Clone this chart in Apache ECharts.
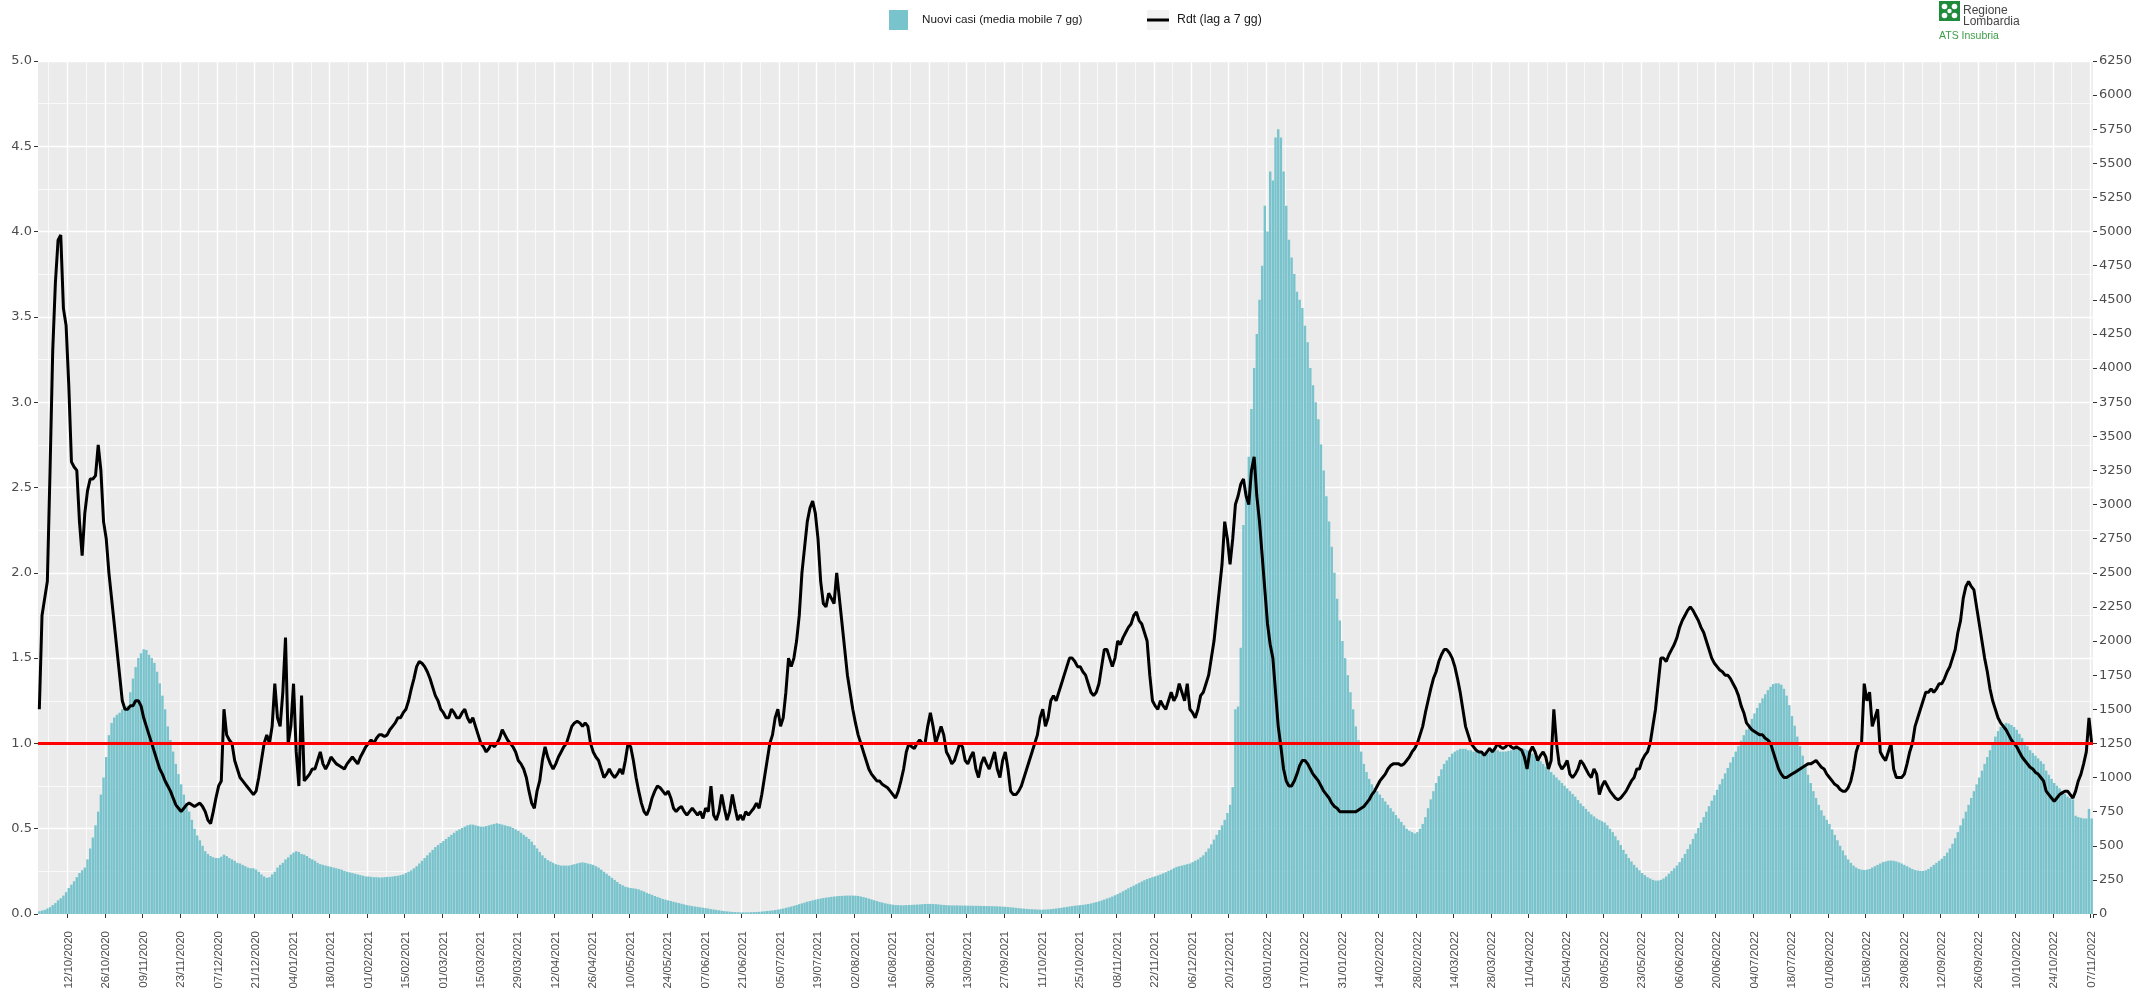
<!DOCTYPE html>
<html><head><meta charset="utf-8">
<script src="https://cdn.jsdelivr.net/npm/echarts@6/dist/echarts.min.js"></script>
<style>html,body{margin:0;padding:0;background:#fff}#c{width:2142px;height:990px}</style>
</head><body><div id="c"></div>
<script>
// ---------- DATA ----------
const firstDay = [2020, 10, 1]; // 01/10/2020, one value per day
const xTickLabels = ['12/10/2020','26/10/2020','09/11/2020','23/11/2020','07/12/2020','21/12/2020',
 '04/01/2021','18/01/2021','01/02/2021','15/02/2021','01/03/2021','15/03/2021','29/03/2021','12/04/2021','26/04/2021','10/05/2021','24/05/2021','07/06/2021','21/06/2021','05/07/2021','19/07/2021','02/08/2021','16/08/2021','30/08/2021','13/09/2021','27/09/2021','11/10/2021','25/10/2021','08/11/2021','22/11/2021','06/12/2021','20/12/2021',
 '03/01/2022','17/01/2022','31/01/2022','14/02/2022','28/02/2022','14/03/2022','28/03/2022','11/04/2022','25/04/2022','09/05/2022','23/05/2022','06/06/2022','20/06/2022','04/07/2022','18/07/2022','01/08/2022','15/08/2022','29/08/2022','12/09/2022','26/09/2022','10/10/2022','24/10/2022','07/11/2022'];
const leftTicks = [0,0.5,1,1.5,2,2.5,3,3.5,4,4.5,5];
const rightTicks = [0,250,500,750,1000,1250,1500,1750,2000,2250,2500,2750,3000,3250,3500,3750,4000,4250,4500,4750,5000,5250,5500,5750,6000,6250];
const soglia = 1.0;

// Rdt (lag a 7 gg), by month
const rdt_2020_10 = [1.2,1.75,1.85,1.95,2.6,3.3,3.7,3.95,3.98,3.55,3.45,3.1,2.65,2.62,2.6,2.3,2.1,2.35,2.48,2.55,2.55,2.57,2.75,2.6,2.3,2.2,2.0,1.85,1.7,1.55,1.4];
const rdt_2020_11 = [1.25,1.2,1.2,1.22,1.22,1.25,1.25,1.22,1.15,1.1,1.05,1.0,0.95,0.9,0.85,0.82,0.78,0.75,0.72,0.68,0.64,0.62,0.6,0.62,0.64,0.65,0.64,0.63,0.64,0.65];
const rdt_2020_12 = [0.63,0.6,0.55,0.53,0.6,0.68,0.75,0.78,1.2,1.05,1.02,1.0,0.9,0.85,0.8,0.78,0.76,0.74,0.72,0.7,0.72,0.8,0.9,1.0,1.05,1.0,1.1,1.35,1.15,1.1,1.3];
const rdt_2021_01 = [1.62,1.0,1.1,1.35,0.95,0.75,1.28,0.78,0.8,0.82,0.85,0.85,0.9,0.95,0.88,0.85,0.88,0.92,0.9,0.88,0.87,0.86,0.85,0.88,0.9,0.92,0.9,0.88,0.92,0.95,0.98];
const rdt_2021_02 = [1.0,1.02,1.0,1.03,1.05,1.05,1.04,1.05,1.08,1.1,1.12,1.15,1.15,1.18,1.2,1.25,1.32,1.38,1.45,1.48,1.47,1.45,1.42,1.38,1.33,1.28,1.25,1.2];
const rdt_2021_03 = [1.18,1.15,1.15,1.2,1.18,1.15,1.15,1.18,1.2,1.15,1.12,1.15,1.1,1.05,1.0,0.98,0.95,0.97,1.0,0.98,1.0,1.03,1.08,1.05,1.02,1.0,0.98,0.95,0.9,0.88,0.85];
const rdt_2021_04 = [0.8,0.72,0.65,0.62,0.72,0.78,0.9,0.98,0.92,0.88,0.85,0.88,0.92,0.95,0.98,1.0,1.05,1.1,1.12,1.13,1.12,1.1,1.12,1.1,1.0,0.95,0.92,0.9,0.85,0.8];
const rdt_2021_05 = [0.82,0.85,0.82,0.8,0.82,0.85,0.82,0.9,1.0,0.98,0.9,0.8,0.72,0.65,0.6,0.58,0.62,0.68,0.72,0.75,0.74,0.72,0.7,0.72,0.68,0.62,0.6,0.62,0.63,0.6,0.58];
const rdt_2021_06 = [0.6,0.62,0.6,0.58,0.6,0.56,0.62,0.6,0.75,0.58,0.55,0.6,0.7,0.62,0.55,0.6,0.7,0.62,0.55,0.58,0.55,0.6,0.58,0.6,0.62,0.65,0.62,0.7,0.8,0.9];
const rdt_2021_07 = [1.0,1.05,1.15,1.2,1.1,1.15,1.3,1.5,1.45,1.5,1.6,1.75,2.0,2.15,2.3,2.38,2.42,2.35,2.2,1.95,1.82,1.8,1.88,1.85,1.82,2.0,1.85,1.7,1.55,1.4,1.3];
const rdt_2021_08 = [1.2,1.12,1.05,1.0,0.95,0.9,0.85,0.82,0.8,0.78,0.78,0.76,0.75,0.74,0.72,0.7,0.68,0.72,0.78,0.85,0.95,1.0,0.98,0.97,1.0,1.02,1.0,1.0,1.1,1.18,1.1];
const rdt_2021_09 = [1.0,1.05,1.1,1.05,0.95,0.92,0.88,0.9,0.95,1.0,0.98,0.9,0.88,0.92,0.95,0.85,0.8,0.88,0.92,0.88,0.85,0.9,0.95,0.85,0.8,0.9,0.95,0.85,0.72,0.7];
const rdt_2021_10 = [0.7,0.72,0.75,0.8,0.85,0.9,0.95,1.0,1.05,1.15,1.2,1.1,1.15,1.25,1.28,1.25,1.3,1.35,1.4,1.45,1.5,1.5,1.48,1.45,1.45,1.42,1.4,1.35,1.3,1.28,1.3];
const rdt_2021_11 = [1.35,1.45,1.55,1.55,1.5,1.45,1.5,1.6,1.58,1.62,1.65,1.68,1.7,1.75,1.77,1.72,1.7,1.65,1.6,1.4,1.25,1.22,1.2,1.25,1.22,1.2,1.25,1.3,1.25,1.28];
const rdt_2021_12 = [1.35,1.3,1.25,1.35,1.2,1.18,1.15,1.2,1.28,1.3,1.35,1.4,1.5,1.6,1.75,1.9,2.05,2.3,2.2,2.05,2.2,2.4,2.45,2.52,2.55,2.45,2.4,2.6,2.68,2.45,2.3];
const rdt_2022_01 = [2.1,1.9,1.7,1.58,1.5,1.3,1.1,0.98,0.85,0.78,0.75,0.75,0.78,0.82,0.87,0.9,0.9,0.88,0.85,0.82,0.8,0.78,0.75,0.72,0.7,0.68,0.65,0.63,0.62,0.6,0.6];
const rdt_2022_02 = [0.6,0.6,0.6,0.6,0.6,0.61,0.62,0.63,0.65,0.67,0.7,0.72,0.75,0.78,0.8,0.82,0.85,0.87,0.88,0.88,0.88,0.87,0.88,0.9,0.92,0.95,0.97,1.0];
const rdt_2022_03 = [1.05,1.1,1.18,1.25,1.32,1.38,1.42,1.48,1.52,1.55,1.55,1.53,1.5,1.45,1.38,1.3,1.2,1.1,1.05,1.0,0.98,0.96,0.95,0.95,0.93,0.95,0.97,0.95,0.97,1.0,0.98];
const rdt_2022_04 = [0.97,0.98,1.0,0.98,0.97,0.98,0.97,0.96,0.92,0.85,0.95,0.98,0.95,0.9,0.93,0.95,0.92,0.85,0.9,1.2,1.0,0.88,0.85,0.87,0.9,0.82,0.8,0.82,0.85,0.9];
const rdt_2022_05 = [0.88,0.85,0.82,0.8,0.85,0.82,0.7,0.75,0.78,0.75,0.72,0.7,0.68,0.67,0.68,0.7,0.72,0.75,0.78,0.8,0.85,0.85,0.9,0.93,0.95,1.0,1.1,1.2,1.35,1.5,1.5];
const rdt_2022_06 = [1.48,1.52,1.55,1.58,1.62,1.68,1.72,1.75,1.78,1.8,1.78,1.75,1.72,1.68,1.65,1.6,1.55,1.5,1.47,1.45,1.43,1.42,1.4,1.4,1.38,1.35,1.32,1.28,1.22,1.18];
const rdt_2022_07 = [1.12,1.1,1.08,1.07,1.06,1.05,1.05,1.03,1.02,1.0,0.95,0.9,0.85,0.82,0.8,0.8,0.81,0.82,0.83,0.84,0.85,0.86,0.87,0.88,0.88,0.89,0.9,0.88,0.86,0.85,0.82];
const rdt_2022_08 = [0.8,0.78,0.76,0.75,0.73,0.72,0.72,0.74,0.78,0.85,0.95,1.0,1.0,1.35,1.25,1.3,1.1,1.15,1.2,0.95,0.92,0.9,0.95,1.0,0.85,0.8,0.8,0.8,0.82,0.88,0.95];
const rdt_2022_09 = [1.0,1.1,1.15,1.2,1.25,1.3,1.3,1.32,1.3,1.32,1.35,1.35,1.38,1.42,1.45,1.5,1.55,1.65,1.72,1.85,1.92,1.95,1.92,1.9,1.8,1.7,1.6,1.5,1.42,1.32];
const rdt_2022_10 = [1.25,1.2,1.15,1.12,1.1,1.08,1.05,1.02,1.0,0.98,0.95,0.92,0.9,0.88,0.86,0.85,0.83,0.82,0.8,0.78,0.72,0.7,0.68,0.66,0.68,0.7,0.71,0.72,0.72,0.7,0.68];
const rdt_2022_11 = [0.72,0.78,0.82,0.88,0.95,1.15,1.0];

// Nuovi casi (media mobile 7 gg), by month
const casi_2020_10 = [20,25,30,40,50,65,80,100,115,135,160,190,215,240,270,300,320,340,400,480,560,650,750,875,1000,1150,1310,1400,1440,1460,1475];
const casi_2020_11 = [1500,1500,1525,1625,1725,1810,1875,1910,1940,1935,1900,1875,1840,1775,1690,1600,1500,1375,1275,1190,1100,1025,950,875,810,750,690,625,575,540];
const casi_2020_12 = [500,460,440,425,415,410,410,420,435,425,410,400,390,375,370,360,350,340,335,335,325,310,290,275,265,270,290,310,340,360,375];
const casi_2021_01 = [400,415,435,450,460,455,440,435,425,410,400,390,375,365,360,355,350,345,340,335,330,325,315,310,305,300,295,290,285,280,275];
const casi_2021_02 = [275,272,270,270,268,268,270,272,272,275,278,280,285,290,300,310,320,335,350,370,390,410,430,450,470,490,505,520];
const casi_2021_03 = [535,550,565,580,595,610,620,630,640,650,655,655,650,645,640,640,645,650,655,660,665,660,655,650,645,640,630,620,610,595,580];
const casi_2021_04 = [565,550,530,505,480,455,430,410,395,385,375,365,360,355,355,355,355,360,365,370,375,378,375,370,365,360,350,340,325,310];
const casi_2021_05 = [295,280,265,250,235,220,210,200,195,190,188,185,180,172,165,155,148,140,132,125,118,110,105,100,95,90,85,80,75,70,65];
const casi_2021_06 = [62,58,55,52,49,46,43,40,36,33,30,27,24,21,19,17,15,14,13,12,12,12,12,13,14,15,16,18,20,22];
const casi_2021_07 = [24,26,29,32,36,40,45,50,55,60,66,72,78,84,90,95,100,105,109,113,117,120,123,126,128,130,132,133,134,135,135];
const casi_2021_08 = [135,134,132,128,124,119,113,107,101,95,89,84,79,75,71,68,66,65,64,64,65,66,67,68,69,70,72,73,74,74,73];
const casi_2021_09 = [72,70,68,66,65,64,63,63,63,62,62,62,61,61,60,60,60,59,59,58,58,57,57,56,55,54,53,51,49,47];
const casi_2021_10 = [45,43,41,39,37,36,35,34,33,32,32,33,34,36,38,40,43,46,49,52,55,58,61,63,65,67,70,73,77,82,87];
const casi_2021_11 = [93,99,106,113,120,128,137,146,156,166,177,188,198,208,218,228,238,248,256,263,270,276,282,290,298,306,315,325,335,345];
const casi_2021_12 = [350,355,360,365,370,380,390,400,415,430,455,480,510,545,580,615,650,690,740,800,930,1500,1520,1950,2850,3100,3350,3700,4000,4250,4500];
const casi_2022_01 = [4750,5190,5000,5440,5375,5690,5750,5690,5440,5190,4940,4810,4690,4560,4500,4440,4310,4190,4000,3875,3750,3625,3440,3250,3060,2875,2690,2500,2310,2150,2000];
const casi_2022_02 = [1875,1750,1625,1500,1375,1275,1190,1100,1040,990,950,925,900,875,850,825,800,775,750,725,700,675,650,625,610,600,590,600];
const casi_2022_03 = [625,660,710,775,840,900,960,1010,1060,1100,1125,1150,1175,1190,1200,1210,1210,1210,1200,1200,1190,1190,1190,1185,1180,1180,1185,1190,1200,1200,1190];
const casi_2022_04 = [1190,1190,1195,1200,1205,1210,1215,1215,1210,1200,1190,1175,1160,1140,1120,1100,1080,1060,1040,1020,1000,980,960,940,920,900,880,860,835,810];
const casi_2022_05 = [790,770,750,730,715,700,690,680,670,650,625,600,570,540,505,470,440,410,385,360,340,320,300,285,270,260,250,245,245,250,260];
const casi_2022_06 = [275,295,315,335,355,380,410,440,475,510,550,590,630,670,710,750,790,830,870,910,950,990,1030,1070,1110,1150,1190,1230,1270,1310];
const casi_2022_07 = [1350,1390,1430,1470,1510,1545,1580,1610,1640,1665,1685,1690,1690,1680,1650,1600,1530,1450,1380,1300,1230,1160,1090,1020,960,900,850,800,760,720,690];
const casi_2022_08 = [660,620,580,540,500,465,430,400,375,355,340,330,325,322,325,330,340,350,360,370,380,385,390,392,390,385,378,370,360,350,340];
const casi_2022_09 = [330,322,318,315,315,320,330,345,360,375,390,405,425,450,480,515,555,600,650,700,750,800,850,900,950,1000,1050,1100,1150,1200];
const casi_2022_10 = [1250,1300,1340,1370,1390,1400,1395,1385,1370,1350,1320,1290,1260,1230,1200,1180,1160,1140,1120,1100,1050,1020,990,960,940,920,900,880,860,850,840];
const casi_2022_11 = [720,710,705,700,700,770,700];

// ---------- ASSEMBLY ----------
const rdt = [].concat(rdt_2020_10,rdt_2020_11,rdt_2020_12,rdt_2021_01,rdt_2021_02,rdt_2021_03,rdt_2021_04,rdt_2021_05,rdt_2021_06,rdt_2021_07,rdt_2021_08,rdt_2021_09,rdt_2021_10,rdt_2021_11,rdt_2021_12,rdt_2022_01,rdt_2022_02,rdt_2022_03,rdt_2022_04,rdt_2022_05,rdt_2022_06,rdt_2022_07,rdt_2022_08,rdt_2022_09,rdt_2022_10,rdt_2022_11);
const casi = [].concat(casi_2020_10,casi_2020_11,casi_2020_12,casi_2021_01,casi_2021_02,casi_2021_03,casi_2021_04,casi_2021_05,casi_2021_06,casi_2021_07,casi_2021_08,casi_2021_09,casi_2021_10,casi_2021_11,casi_2021_12,casi_2022_01,casi_2022_02,casi_2022_03,casi_2022_04,casi_2022_05,casi_2022_06,casi_2022_07,casi_2022_08,casi_2022_09,casi_2022_10,casi_2022_11);

const pad = n => (n < 10 ? '0' : '') + n;
const dates = [];
const t0 = Date.UTC(firstDay[0], firstDay[1] - 1, firstDay[2]);
for (let i = 0; i < casi.length; i++) {
  const d = new Date(t0 + i * 86400000);
  dates.push(pad(d.getUTCDate()) + '/' + pad(d.getUTCMonth() + 1) + '/' + d.getUTCFullYear());
}
const majorSet = new Set(xTickLabels.map(l => dates.indexOf(l)).filter(i => i >= 0));
const minorSet = new Set();
majorSet.forEach(i => { if (i - 7 >= 0) minorSet.add(i - 7); if (i + 7 < dates.length) minorSet.add(i + 7); });

const FONT = 'Liberation Sans, Arial, Helvetica, sans-serif';
const YFONT = 'DejaVu Sans, Liberation Sans, sans-serif';
const TXT = '#4D4D4D';
const TEAL = '#78C3CC';

const chart = echarts.init(document.getElementById('c'), null, { renderer: 'canvas' });
chart.setOption({
  animation: false,
  backgroundColor: '#ffffff',
  textStyle: { fontFamily: FONT },
  grid: { left: 38, right: 49, top: 61, bottom: 76, containLabel: false, outerBoundsMode: 'none',
          show: true, backgroundColor: '#EBEBEB', borderWidth: 0 },
  legend: [
    { data: ['Nuovi casi (media mobile 7 gg)'], left: 889, top: 10, padding: 0, icon: 'rect', itemWidth: 19, itemHeight: 20,
      textStyle: { fontFamily: FONT, fontSize: 11.7, color: '#1A1A1A', padding: [0, 0, 0, 9] } },
    { data: ['Rdt (lag a 7 gg)'], left: 1147, top: 14, padding: 0, icon: 'rect', itemWidth: 22, itemHeight: 3,
      textStyle: { fontFamily: FONT, fontSize: 12.3, color: '#1A1A1A', padding: [0, 0, 0, 3] } }
  ],
  xAxis: [
    { type: 'category', data: dates, boundaryGap: true,
      axisLine: { show: false },
      axisTick: { show: true, interval: (i) => majorSet.has(i), length: 4, lineStyle: { color: '#333', width: 1 } },
      axisLabel: { interval: (i) => majorSet.has(i), rotate: 90, fontSize: 11.5, color: TXT, margin: 17, fontFamily: FONT },
      splitLine: { show: true, interval: (i) => majorSet.has(i), lineStyle: { color: '#FFFFFF', width: 1.4 } } },
    { type: 'category', data: dates, boundaryGap: true, position: 'bottom',
      axisLine: { show: false }, axisTick: { show: false }, axisLabel: { show: false },
      splitLine: { show: true, interval: (i) => minorSet.has(i), lineStyle: { color: '#FFFFFF', width: 0.7 } } }
  ],
  yAxis: [
    { type: 'value', min: leftTicks[0], max: leftTicks[leftTicks.length - 1], interval: 0.5, position: 'left',
      axisLine: { show: false },
      axisTick: { show: true, length: 4, lineStyle: { color: '#333' } },
      axisLabel: { fontSize: 13, color: TXT, margin: 6, formatter: v => v.toFixed(1), fontFamily: YFONT },
      splitLine: { show: true, lineStyle: { color: '#FFFFFF', width: 1.4 } },
      minorTick: { show: false, splitNumber: 2 },
      minorSplitLine: { show: true, lineStyle: { color: '#FFFFFF', width: 0.7 } } },
    { type: 'value', min: 0, max: 6250, position: 'right',
      axisLine: { show: false },
      axisTick: { show: true, length: 4, customValues: rightTicks, lineStyle: { color: '#333' } },
      axisLabel: { fontSize: 13, color: TXT, margin: 6, customValues: rightTicks, formatter: v => String(v), fontFamily: YFONT },
      splitLine: { show: false } }
  ],
  series: [
    { name: 'Nuovi casi (media mobile 7 gg)', type: 'bar', data: casi, xAxisIndex: 0, yAxisIndex: 1,
      barCategoryGap: '10%', itemStyle: { color: TEAL }, z: 2 },
    { name: 'Rdt (lag a 7 gg)', type: 'line', data: rdt, xAxisIndex: 0, yAxisIndex: 0,
      showSymbol: false, symbol: 'none', lineStyle: { color: '#000000', width: 3 }, itemStyle: { color: '#000000' }, z: 3,
      markLine: { silent: true, symbol: ['none', 'none'], label: { show: false },
        lineStyle: { color: '#FF0000', width: 3, type: 'solid' }, data: [{ yAxis: soglia }], z: 4 } }
  ],
  graphic: [
    { type: 'rect', shape: { x: 1147, y: 10, width: 22, height: 20 }, style: { fill: '#F2F2F2' }, z: 0 },
    { type: 'rect', shape: { x: 1939, y: 1, width: 21, height: 20 }, style: { fill: '#1F8B3B' }, z: 5 },
    { type: 'circle', shape: { cx: 1944.5, cy: 6.5, r: 2.8 }, style: { fill: '#fff' }, z: 6 },
    { type: 'circle', shape: { cx: 1954.5, cy: 6.5, r: 2.8 }, style: { fill: '#fff' }, z: 6 },
    { type: 'circle', shape: { cx: 1944.5, cy: 15.5, r: 2.8 }, style: { fill: '#fff' }, z: 6 },
    { type: 'circle', shape: { cx: 1954.5, cy: 15.5, r: 2.8 }, style: { fill: '#fff' }, z: 6 },
    { type: 'circle', shape: { cx: 1949.5, cy: 11, r: 2.2 }, style: { fill: '#fff' }, z: 6 },
    { type: 'text', x: 1963, y: 5, style: { text: 'Regione', fontSize: 12, fontFamily: FONT, fill: '#444', verticalAlign: 'top', align: 'left' }, z: 6 },
    { type: 'text', x: 1963, y: 15.5, style: { text: 'Lombardia', fontSize: 12, fontFamily: FONT, fill: '#444', verticalAlign: 'top', align: 'left' }, z: 6 },
    { type: 'text', x: 1939, y: 31, style: { text: 'ATS Insubria', fontSize: 10.5, fontFamily: FONT, fill: '#3C9D48', verticalAlign: 'top', align: 'left' }, z: 6 }
  ]
});
</script>
</body></html>
